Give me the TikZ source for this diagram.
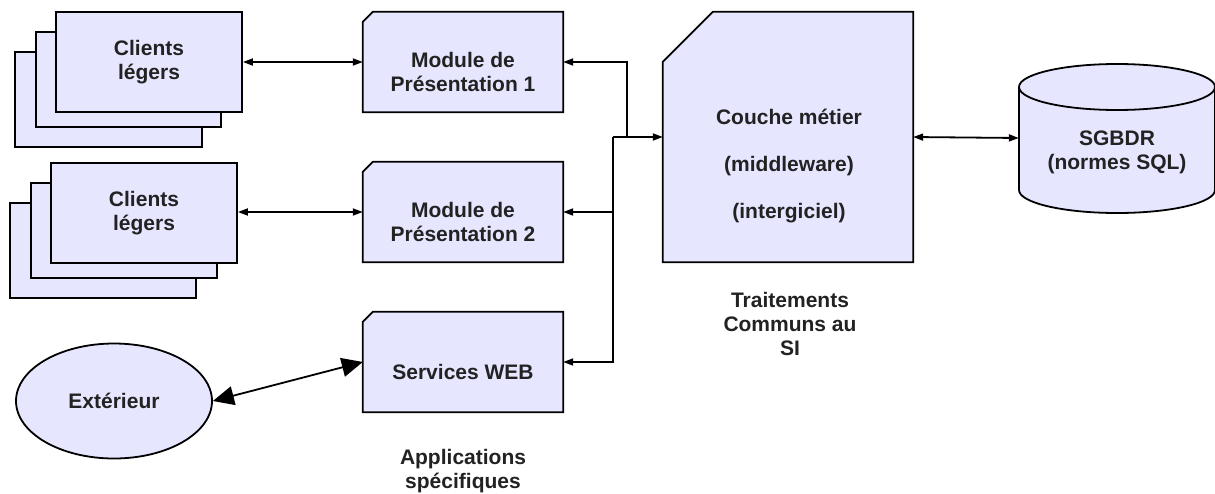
\documentclass[tikz,border=0pt]{standalone}
\usepackage{fontspec}
\setmainfont{Liberation Sans}
\usetikzlibrary{arrows.meta,shapes.geometric}
\definecolor{boxfill}{HTML}{E6E6FF}
\definecolor{txt}{HTML}{222222}

\begin{document}
\begin{tikzpicture}[x=1pt,y=-1pt]
\tikzstyle{every node}=[font=\bfseries\fontsize{21}{24}\selectfont, text=txt, align=center]
\tikzstyle{box}=[draw=black, fill=boxfill, line width=1.8pt, line join=miter]
\tikzstyle{client}=[box, rectangle, minimum width=186pt, minimum height=100pt, inner sep=0pt]
\tikzstyle{module}=[rectangle, minimum width=200pt, minimum height=100pt, inner sep=0pt]
\tikzstyle{link}=[line width=1.8pt, {Triangle[length=10pt,width=7pt]}-{Triangle[length=10pt,width=7pt]}]
\tikzstyle{feed}=[line width=1.8pt, -{Triangle[length=10pt,width=7pt]}]
\useasboundingbox (0,0) rectangle (1215,493);

\draw[box] (15,52) rectangle (202,147);
\draw[box] (36,32) rectangle (221,127);
\node[client] (cl1) at (149,62) {Clients\\légers};
\draw[box] (10,203) rectangle (196,298);
\draw[box] (31,183) rectangle (217,278);
\node[client] (cl2) at (144,213) {Clients\\légers};

\node[module] (m1) at (463,62) {};
\node[module] (m2) at (463,212) {};
\node[module] (ws) at (463,362) {};
\node[module, minimum width=250pt, minimum height=250pt] (cm) at (788,137) {};
\foreach \n/\c in {m1/10,m2/10,ws/10,cm/50}
  \draw[box] ([yshift=-\c pt]\n.north west) -- ([xshift=\c pt]\n.north west) -- (\n.north east) -- (\n.south east) -- (\n.south west) -- cycle;
\node at (463,72) {Module de\\Présentation 1};
\node at (463,222) {Module de\\Présentation 2};
\node at (463,372) {Services WEB};
\node at (789,166) {Couche métier\\[23pt](middleware)\\[23pt](intergiciel)};

\node[minimum width=196pt, minimum height=150pt, inner sep=0pt] (db) at (1117,138) {};
\draw[box] (1019,87) -- (1019,190) arc[start angle=180, end angle=360, x radius=98pt, y radius=23pt] -- (1215,87) arc[start angle=0, end angle=180, x radius=98pt, y radius=23pt] -- cycle;
\draw[line width=1.8pt] (1019,87) arc[start angle=180, end angle=360, x radius=98pt, y radius=23pt];
\node at (1117,152) {SGBDR\\(normes SQL)};

\node[box, ellipse, minimum width=196pt, minimum height=115pt, inner sep=0pt] (ext) at (114,401) {Extérieur};

\node (trt) at (790,324) {Traitements\\Communs au\\SI};
\node (app) at (463,471) {Applications\\spécifiques};

\coordinate (bus) at (613,137);
\coordinate (bus1) at (627,137);
\draw[link] (cl1.east) -- (m1.west);
\draw[link] (cl2.east |- m2.west) -- (m2.west);
\draw[feed] (bus1) |- (m1.east);
\draw[feed] (bus) |- (m2.east);
\draw[feed] (bus) |- (ws.east);
\draw[feed] (bus) -- (cm.west);
\draw[link] (cm.east) -- (db.west);
\draw[line width=1.8pt, {Triangle[length=21pt,width=19pt]}-{Triangle[length=21pt,width=19pt]}] (ext.east) -- (ws.west);
\end{tikzpicture}
\end{document}
